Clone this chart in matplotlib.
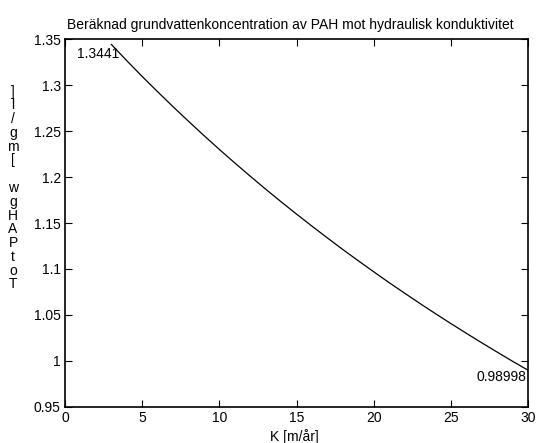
import matplotlib
matplotlib.use("Agg")
import matplotlib.pyplot as plt

# Hydraulic conductivity K [m/år] and computed total PAH concentration in groundwater [mg/l]
k_values = [3, 4, 5, 6, 7, 8, 9, 10, 11, 12, 13, 14, 15, 16, 17, 18, 19, 20,
            21, 22, 23, 24, 25, 26, 27, 28, 29, 30]
pah_conc = [1.3441, 1.3265, 1.3093, 1.2927, 1.2764, 1.2606, 1.2451, 1.2300,
            1.2153, 1.2009, 1.1868, 1.1731, 1.1597, 1.1466, 1.1338, 1.1212,
            1.1090, 1.0970, 1.0852, 1.0738, 1.0625, 1.0515, 1.0407, 1.0302,
            1.0198, 1.0097, 0.9997, 0.98998]

x_ticks = [0, 5, 10, 15, 20, 25, 30]
y_ticks = [0.95, 1.0, 1.05, 1.1, 1.15, 1.2, 1.25, 1.3, 1.35]
y_tick_labels = ["0.95", "1", "1.05", "1.1", "1.15", "1.2", "1.25", "1.3", "1.35"]

title = "Beräknad grundvattenkoncentration av PAH mot hydraulisk konduktivitet"
xlabel = "K [m/år]"
ylabel = "TotPAHgw [mg/l]"

plt.rcParams["font.family"] = ["Liberation Sans", "DejaVu Sans"]
FS = 10

fig = plt.figure(figsize=(5.36, 4.43), dpi=100)
ax = fig.add_axes([65 / 536, 36 / 443, 463 / 536, 368 / 443])

ax.plot(k_values, pah_conc, color="black", linewidth=0.9)

ax.set_xlim(0, 30)
ax.set_ylim(0.95, 1.35)
ax.set_xticks(x_ticks)
ax.set_xticklabels([str(t) for t in x_ticks], fontsize=FS)
ax.set_yticks(y_ticks)
ax.set_yticklabels(y_tick_labels, fontsize=FS)
ax.tick_params(direction="in", length=5, width=0.8, top=True, right=True,
               pad=3, colors="black")
for sp in ax.spines.values():
    sp.set_linewidth(1.2)
    sp.set_color("black")

# End-point value annotations
ax.text(0.78, 1.3337, f"{pah_conc[0]:.5g}", fontsize=FS, ha="left", va="center")
ax.text(29.9, 0.9826, f"{pah_conc[-1]:.5g}", fontsize=FS, ha="right", va="center")

ax.set_title(title, fontsize=FS, x=(290 - 65) / 463, pad=7)
ax.set_xlabel(xlabel, fontsize=FS, va="center")
ax.xaxis.set_label_coords((294 - 65) / 463, -30 / 368)

# Upright stacked y-label, read from bottom to top
stacked = "\n".join(reversed(list(ylabel)))
fig.text(13 / 536, 1 - 188 / 443, stacked, fontsize=FS, ha="center", va="center",
         multialignment="center", linespacing=0.98)

fig.savefig("out.png", dpi=100)
